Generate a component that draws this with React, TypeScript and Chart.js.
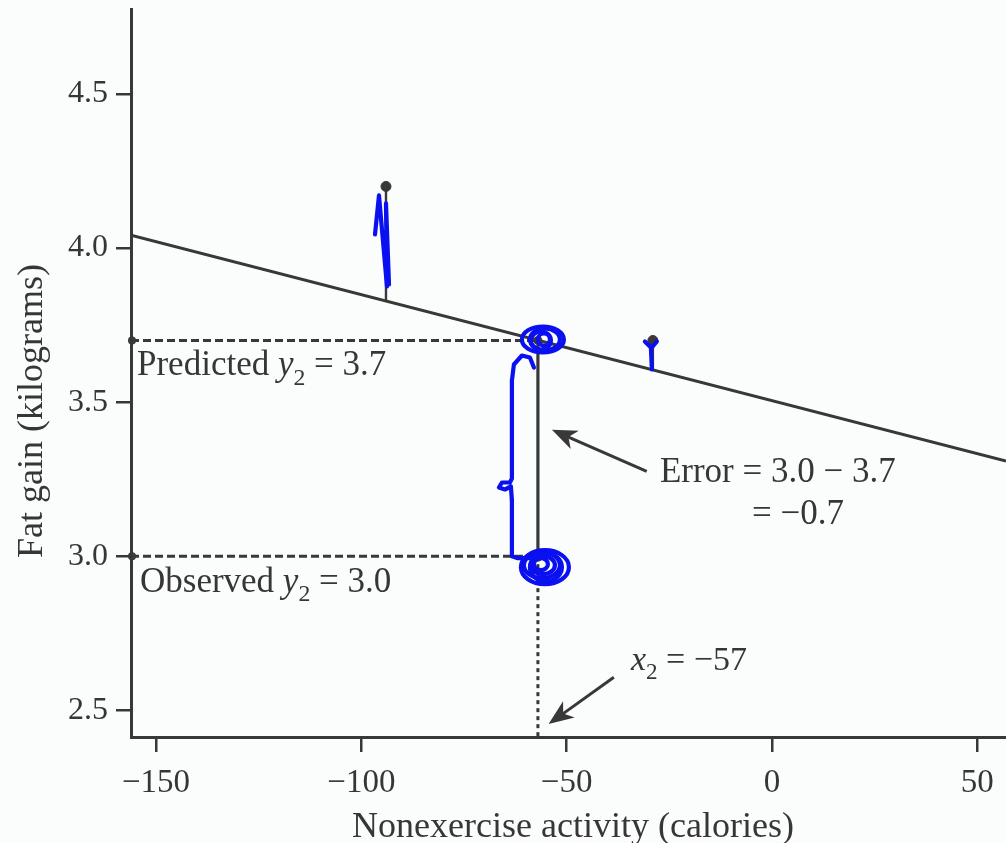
import React, { useEffect, useRef } from 'react';
import { Chart, registerables } from 'chart.js';

Chart.register(...registerables);

// Nonexercise activity (calories) and fat gain (kg) for the highlighted subjects
const activity = [-94, -57, -29];
const fatGain = [4.2, 3.0, 3.7];

// Least-squares line: fat gain = intercept + slope * activity
const intercept = 3.505;
const slope = -0.00344;

// Worked example for subject 2
const x2 = -57;
const observedY2 = 3.0;
const predictedY2 = 3.7;
const errorY2 = -0.7;

const xBounds = [-156.1, 57];
const yBounds = [2.413, 4.776];
const xTickValues = [-150, -100, -50, 0, 50];
const xTickLabels = ['−150', '−100', '−50', '0', '50'];
const yTickValues = [2.5, 3.0, 3.5, 4.0, 4.5];
const yTickLabels = ['2.5', '3.0', '3.5', '4.0', '4.5'];

const INK = '#383838';
const TEXT = '#363636';
const PEN = '#0a10f0';
const SERIF = '"Liberation Serif", "DejaVu Serif", serif';

const fmt = (v: number) => v.toFixed(1).replace('-', '−');
const fitted = (v: number) => intercept + slope * v;

type Part = { t: string; italic?: boolean; sub?: boolean };

function richText(ctx: CanvasRenderingContext2D, x: number, y: number, parts: Part[], size: number) {
  let cx = x;
  ctx.textBaseline = 'alphabetic';
  ctx.textAlign = 'left';
  for (const p of parts) {
    const fs = p.sub ? size * 0.68 : size;
    ctx.font = `${p.italic ? 'italic ' : ''}${fs}px ${SERIF}`;
    ctx.fillText(p.t, cx, y + (p.sub ? size * 0.26 : 0));
    cx += ctx.measureText(p.t).width;
  }
}

function arrow(ctx: CanvasRenderingContext2D, x1: number, y1: number, x2p: number, y2p: number) {
  const ang = Math.atan2(y2p - y1, x2p - x1);
  const hl = 25;
  const hw = 10;
  const c = Math.cos(ang);
  const s = Math.sin(ang);
  ctx.beginPath();
  ctx.moveTo(x1, y1);
  ctx.lineTo(x2p - c * hl * 0.7, y2p - s * hl * 0.7);
  ctx.stroke();
  ctx.beginPath();
  ctx.moveTo(x2p, y2p);
  ctx.lineTo(x2p - c * hl - s * hw, y2p - s * hl + c * hw);
  ctx.lineTo(x2p - c * hl * 0.72, y2p - s * hl * 0.72);
  ctx.lineTo(x2p - c * hl + s * hw, y2p - s * hl - c * hw);
  ctx.closePath();
  ctx.fill();
}

function polyline(ctx: CanvasRenderingContext2D, ox: number, oy: number, pts: number[][]) {
  ctx.beginPath();
  pts.forEach(([dx, dy], i) => (i === 0 ? ctx.moveTo(ox + dx, oy + dy) : ctx.lineTo(ox + dx, oy + dy)));
  ctx.stroke();
}

const guides = {
  id: 'guides',
  beforeDatasetsDraw(chart: any) {
    const { ctx, chartArea: a, scales } = chart;
    const px = (v: number) => scales.x.getPixelForValue(v);
    const py = (v: number) => scales.y.getPixelForValue(v);
    ctx.save();
    ctx.strokeStyle = INK;
    ctx.fillStyle = INK;
    ctx.lineWidth = 3;
    ctx.lineCap = 'butt';

    // dashed reference lines to the axes
    ctx.setLineDash([8, 4]);
    for (const v of [predictedY2, observedY2]) {
      ctx.beginPath();
      ctx.moveTo(a.left, py(v));
      ctx.lineTo(px(x2), py(v));
      ctx.stroke();
    }
    ctx.setLineDash([4, 4]);
    ctx.beginPath();
    ctx.moveTo(px(x2), py(observedY2));
    ctx.lineTo(px(x2), a.bottom);
    ctx.stroke();
    ctx.setLineDash([]);

    // small rings where the dashed lines meet the y axis
    ctx.lineWidth = 2;
    for (const v of [predictedY2, observedY2]) {
      ctx.beginPath();
      ctx.arc(a.left + 1, py(v), 3, 0, Math.PI * 2);
      ctx.stroke();
    }

    // residuals: vertical segments from each point to the fitted line
    activity.forEach((v, i) => {
      ctx.lineWidth = v === x2 ? 3.2 : 2.4;
      ctx.beginPath();
      ctx.moveTo(px(v), py(fatGain[i]));
      ctx.lineTo(px(v), py(v === x2 ? predictedY2 : fitted(v)));
      ctx.stroke();
    });
    ctx.restore();
  },
  afterDatasetsDraw(chart: any) {
    const { ctx, chartArea: a, scales } = chart;
    const px = (v: number) => scales.x.getPixelForValue(v);
    const py = (v: number) => scales.y.getPixelForValue(v);
    const X = px(x2);
    const P = py(predictedY2);
    const O = py(observedY2);
    ctx.save();
    ctx.fillStyle = TEXT;

    richText(ctx, a.left + 6, P + 35, [{ t: 'Predicted ' }, { t: 'y', italic: true }, { t: '2', sub: true }, { t: ' = ' + fmt(predictedY2) }], 35);
    richText(ctx, a.left + 9, O + 36, [{ t: 'Observed ' }, { t: 'y', italic: true }, { t: '2', sub: true }, { t: ' = ' + fmt(observedY2) }], 35);
    richText(ctx, X + 122, py(3.24), [{ t: 'Error = ' + fmt(observedY2) + ' − ' + fmt(predictedY2) }], 35);
    richText(ctx, X + 214, py(3.105), [{ t: '= ' + fmt(errorY2) }], 35);
    richText(ctx, X + 93, py(2.63), [{ t: 'x', italic: true }, { t: '2', sub: true }, { t: ' = −' + Math.abs(x2) }], 34);

    // pointer arrows
    ctx.strokeStyle = INK;
    ctx.fillStyle = INK;
    ctx.lineWidth = 3;
    arrow(ctx, px(-30.5), py(3.275), px(-53.6), py(3.41));
    arrow(ctx, px(-38.5), py(2.607), px(-54.4), py(2.455));

    // axis titles
    ctx.fillStyle = TEXT;
    ctx.font = `36px ${SERIF}`;
    ctx.textAlign = 'center';
    ctx.textBaseline = 'alphabetic';
    ctx.fillText('Nonexercise activity (calories)', 573, 837);
    ctx.save();
    ctx.translate(42, 411);
    ctx.rotate(-Math.PI / 2);
    ctx.fillText('Fat gain (kilograms)', 0, 0);
    ctx.restore();

    // blue pen marks
    ctx.strokeStyle = PEN;
    ctx.lineWidth = 4.2;
    ctx.lineCap = 'round';
    ctx.lineJoin = 'round';
    const rings = (cx: number, cy: number, list: number[][]) => {
      for (const [dx, dy, rx, ry] of list) {
        ctx.beginPath();
        ctx.ellipse(cx + dx, cy + dy, rx, ry, 0, 0, Math.PI * 2);
        ctx.stroke();
      }
    };
    rings(X, P, [[5, -1, 21, 13], [7, -1, 15, 11], [3, 0, 10, 9], [6, -1, 6, 6]]);
    rings(X, O, [[7, 11, 24, 17], [4, 9, 18, 13], [5, 9, 12, 9], [3, 8, 7, 6], [8, 11, 16, 14]]);
    // bracket spanning the error
    polyline(ctx, X, P, [[-4, 27], [-8, 17], [-16, 15], [-24, 24], [-26, 40], [-26, 138], [-28, 142], [-36, 142], [-39, 147], [-33, 149], [-27, 146], [-26, 160]]);
    polyline(ctx, X, O, [[-26, -56], [-26, 0], [-20, 2], [-6, 2]]);
    // strokes over the other two residuals
    const ax = px(activity[0]);
    const ay = py(fatGain[0]);
    polyline(ctx, ax, ay, [[-11, 48], [-7, 9], [1, 100], [0, 17], [3, 98]]);
    const bx = px(activity[2]);
    const by = py(fatGain[2]);
    polyline(ctx, bx, by, [[-8, 1], [-2, 7], [-1, 29]]);
    polyline(ctx, bx, by, [[4, 1], [-1, 7]]);
    ctx.restore();
  },
};

export default function App() {
  const ref = useRef<HTMLCanvasElement | null>(null);

  useEffect(() => {
    if (!ref.current) return;
    const chart = new Chart(ref.current, {
      type: 'scatter',
      data: {
        datasets: [
          {
            type: 'line',
            label: 'Least-squares line',
            data: xBounds.map((v) => ({ x: v, y: fitted(v) })),
            borderColor: INK,
            borderWidth: 3,
            pointRadius: 0,
            fill: false,
          },
          {
            label: 'Subjects',
            data: activity.map((v, i) => ({ x: v, y: fatGain[i] })),
            backgroundColor: INK,
            borderColor: INK,
            pointRadius: 5,
          },
          {
            label: 'Predicted',
            data: [{ x: x2, y: predictedY2 }],
            backgroundColor: INK,
            borderColor: INK,
            pointRadius: 4,
          },
        ],
      },
      options: {
        responsive: false,
        animation: false,
        devicePixelRatio: 1,
        layout: { autoPadding: false, padding: { top: 9, left: 0, right: 0, bottom: 0 } },
        plugins: { legend: { display: false }, tooltip: { enabled: false } },
        scales: {
          x: {
            type: 'linear',
            min: xBounds[0],
            max: xBounds[1],
            afterBuildTicks: (s: any) => {
              s.ticks = xTickValues.map((value) => ({ value }));
            },
            afterFit: (s: any) => {
              s.height = 106;
              s.paddingLeft = 0;
              s.paddingRight = 0;
            },
            border: { display: true, color: INK, width: 3 },
            grid: { display: true, drawOnChartArea: false, drawTicks: true, tickLength: 15, color: INK, lineWidth: 2.5 },
            ticks: {
              padding: 12,
              color: TEXT,
              maxRotation: 0,
              autoSkip: false,
              font: { family: SERIF, size: 33 },
              callback: (v: any) => xTickLabels[xTickValues.indexOf(Number(v))] ?? '',
            },
          },
          y: {
            type: 'linear',
            min: yBounds[0],
            max: yBounds[1],
            afterBuildTicks: (s: any) => {
              s.ticks = yTickValues.map((value) => ({ value }));
            },
            afterFit: (s: any) => {
              s.width = 131;
              s.paddingTop = 0;
              s.paddingBottom = 0;
            },
            border: { display: true, color: INK, width: 3 },
            grid: { display: true, drawOnChartArea: false, drawTicks: true, tickLength: 15, color: INK, lineWidth: 2.5 },
            ticks: {
              padding: 8,
              color: TEXT,
              autoSkip: false,
              font: { family: SERIF, size: 32 },
              callback: (v: any) => yTickLabels[yTickValues.indexOf(Number(v))] ?? '',
            },
          },
        },
      },
      plugins: [guides],
    } as any);
    return () => chart.destroy();
  }, []);

  return (
    <div style={{ position: 'fixed', left: 0, top: 0, width: 1006, height: 843, background: '#fbfcfc' }}>
      <canvas ref={ref} width={1006} height={843} style={{ display: 'block' }} />
    </div>
  );
}
